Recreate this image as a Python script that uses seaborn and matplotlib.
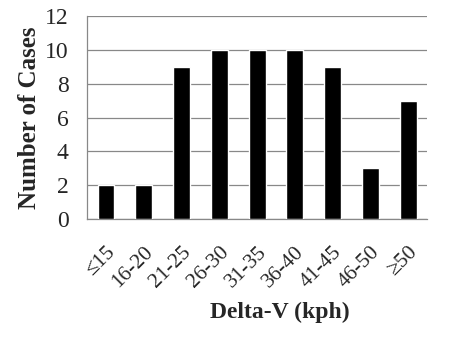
import matplotlib
matplotlib.use("Agg")
import matplotlib.pyplot as plt
import seaborn as sns
import numpy as np
import pandas as pd

# Data
categories = ["\u226415", "16-20", "21-25", "26-30", "31-35", "36-40", "41-45", "46-50", "\u226550"]
cases = [2, 2, 9, 10, 10, 10, 9, 3, 7]

df = pd.DataFrame({"delta_v": categories, "cases": cases})

sns.set_style("white")
plt.rcParams["font.family"] = ["Liberation Serif", "DejaVu Serif"]

fig = plt.figure(figsize=(4.61, 3.37), dpi=100)
ax = fig.add_axes([0.189, 0.350, 0.737, 0.6025])

sns.barplot(data=df, x="delta_v", y="cases", color="black", width=0.45,
            saturation=1, ax=ax, zorder=3)

ax.set_ylim(0, 12)
ax.set_yticks(np.arange(0, 13, 2))
ax.set_xlim(-0.5, len(categories) - 0.5)
ax.yaxis.grid(True, color="#888888", linewidth=0.9, zorder=0)
ax.set_axisbelow(True)

for s in ["top", "right"]:
    ax.spines[s].set_visible(False)
for s in ["left", "bottom"]:
    ax.spines[s].set_color("#888888")
    ax.spines[s].set_linewidth(0.9)

# tick marks at category boundaries
ax.set_xticks(np.arange(-0.5, len(categories), 1.0), minor=True)
ax.tick_params(axis="x", which="minor", length=6, color="#888888", width=0.9, direction="out")
ax.tick_params(axis="x", which="major", length=0, pad=17)
ax.tick_params(axis="y", length=4.5, color="#888888", width=0.9, direction="out", labelsize=17, pad=9)

ax.set_xticks(range(len(categories)))
ax.set_xticklabels(categories, rotation=45, ha="right", rotation_mode="anchor", fontsize=15.5)

ax.set_xlabel("Delta-V (kph)", fontsize=17, fontweight="bold")
ax.xaxis.set_label_coords(0.568, -0.41)
ax.set_ylabel("Number of Cases", fontsize=18, fontweight="bold", labelpad=3)

fig.savefig("out.png", dpi=100)
